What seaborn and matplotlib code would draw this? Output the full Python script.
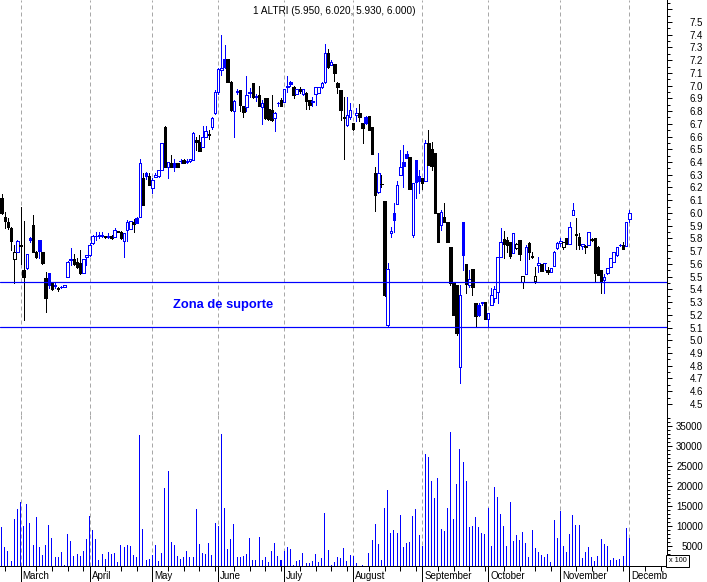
import matplotlib
matplotlib.use("Agg")
import numpy as np
import matplotlib.pyplot as plt
import matplotlib.transforms as mtransforms
from matplotlib.patches import Rectangle
from matplotlib.ticker import FixedLocator, FuncFormatter
import seaborn as sns

# ---------------- data ----------------
opens = [6.12, 5.97, 5.93, 5.88, 5.635, 5.695, 5.74, 5.55, 5.565, 5.80,
         5.905, 5.695, 5.787, 5.69, 5.486, 5.525, 5.452, 5.43, 5.413, 5.415,
         5.415, 5.499, 5.63, 5.635, 5.617, 5.604, 5.525, 5.656, 5.669, 5.761,
         5.815, 5.82, 5.818, 5.819, 5.81, 5.819, 5.808, 5.86, 5.853, 5.782,
         5.866, 5.874, 5.931, 5.96, 5.965, 6.271, 6.311, 6.29, 6.193, 6.285,
         6.29, 6.338, 6.678, 6.364, 6.39, 6.39, 6.39, 6.405, 6.416, 6.40,
         6.405, 6.416, 6.57, 6.56, 6.515, 6.60, 6.62, 6.673, 6.783, 6.953,
         7.12, 7.207, 7.207, 7.031, 6.80, 6.95, 6.966, 6.84, 6.835, 6.95,
         7.024, 6.914, 6.927, 6.836, 6.90, 6.82, 6.81, 6.743, 6.86, 6.888,
         6.874, 6.99, 7.031, 6.992, 6.935, 6.971, 6.935, 6.945, 6.887, 6.875,
         6.935, 6.94, 6.987, 7.03, 7.254, 7.162, 7.17, 7.018, 6.966, 6.75,
         6.69, 6.757, 6.705, 6.77, 6.788, 6.71, 6.75, 6.762, 6.678, 6.311,
         6.162, 6.23, 6.094, 5.12, 5.845, 6.002, 6.07, 6.298, 6.40, 6.463,
         6.442, 5.827, 6.416, 6.29, 6.272, 6.254, 6.547, 6.50, 6.468, 6.002,
         5.906, 5.97, 5.932, 5.735, 5.447, 5.434, 4.793, 5.932, 5.60, 5.433,
         5.557, 5.295, 5.277, 5.295, 5.303, 5.165, 5.277, 5.33, 5.38, 5.657,
         5.793, 5.79, 5.775, 5.686, 5.722, 5.785, 5.46, 5.52, 5.763, 5.66,
         5.465, 5.595, 5.60, 5.605, 5.552, 5.54, 5.583, 5.722, 5.766, 5.73,
         5.80, 5.76, 5.984, 5.835, 5.81, 5.74, 5.735, 5.75, 5.79, 5.80,
         5.735, 5.552, 5.47, 5.526, 5.578, 5.618, 5.67, 5.745, 5.75, 5.742,
         5.95]
highs = [6.15, 6.01, 5.96, 5.89, 5.75, 5.79, 6.05, 5.94, 5.68, 5.81,
         5.983, 5.70, 5.79, 5.69, 5.538, 5.53, 5.452, 5.45, 5.42, 5.43,
         5.434, 5.62, 5.722, 5.68, 5.65, 5.709, 5.64, 5.672, 5.761, 5.826,
         5.853, 5.853, 5.853, 5.82, 5.84, 5.826, 5.879, 5.86, 5.86, 5.84,
         5.944, 5.94, 5.949, 5.965, 6.421, 6.311, 6.32, 6.311, 6.271, 6.31,
         6.34, 6.55, 6.68, 6.40, 6.456, 6.42, 6.395, 6.42, 6.42, 6.42,
         6.425, 6.636, 6.60, 6.613, 6.683, 6.683, 6.65, 6.75, 6.966, 7.136,
         7.40, 7.32, 7.21, 7.035, 6.885, 6.97, 6.966, 6.84, 7.076, 6.98,
         7.024, 6.935, 6.997, 6.888, 6.90, 6.90, 6.93, 6.79, 6.875, 6.90,
         6.975, 7.076, 7.04, 6.997, 6.971, 6.992, 6.975, 6.953, 6.887, 6.914,
         6.992, 6.99, 7.031, 7.327, 7.285, 7.20, 7.17, 7.031, 6.966, 6.914,
         6.914, 6.86, 6.705, 6.827, 6.856, 6.71, 6.76, 6.762, 6.678, 6.364,
         6.468, 6.298, 6.094, 5.61, 5.89, 6.076, 6.254, 6.495, 6.534, 6.49,
         6.442, 6.238, 6.416, 6.337, 6.272, 6.573, 6.652, 6.56, 6.468, 6.002,
         6.023, 6.076, 5.932, 5.735, 5.447, 5.434, 5.434, 5.932, 5.60, 5.552,
         5.557, 5.295, 5.29, 5.30, 5.303, 5.211, 5.408, 5.43, 5.657, 5.88,
         5.855, 5.814, 5.775, 5.84, 5.761, 5.79, 5.505, 5.75, 5.77, 5.696,
         5.578, 5.657, 5.60, 5.61, 5.578, 5.565, 5.70, 5.77, 5.80, 5.775,
         5.80, 5.93, 6.075, 5.957, 5.84, 5.76, 5.75, 5.85, 5.80, 5.80,
         5.74, 5.552, 5.52, 5.565, 5.65, 5.696, 5.73, 5.76, 5.77, 5.93,
         6.02]
lows = [5.99, 5.88, 5.87, 5.71, 5.45, 5.69, 5.60, 5.16, 5.56, 5.77,
        5.69, 5.65, 5.643, 5.60, 5.224, 5.408, 5.394, 5.41, 5.39, 5.41,
        5.415, 5.499, 5.591, 5.591, 5.57, 5.52, 5.525, 5.591, 5.66, 5.76,
        5.79, 5.80, 5.81, 5.80, 5.80, 5.792, 5.808, 5.85, 5.792, 5.656,
        5.78, 5.87, 5.853, 5.92, 5.965, 6.06, 6.27, 6.219, 6.159, 6.28,
        6.28, 6.338, 6.364, 6.277, 6.36, 6.33, 6.36, 6.39, 6.39, 6.395,
        6.40, 6.416, 6.495, 6.49, 6.515, 6.60, 6.58, 6.66, 6.78, 6.934,
        7.08, 7.14, 7.03, 6.80, 6.60, 6.935, 6.803, 6.756, 6.80, 6.91,
        6.90, 6.88, 6.84, 6.70, 6.74, 6.73, 6.72, 6.64, 6.84, 6.84,
        6.87, 6.953, 7.00, 6.90, 6.935, 6.945, 6.93, 6.82, 6.82, 6.84,
        6.848, 6.94, 6.98, 7.02, 7.136, 7.16, 7.04, 6.94, 6.73, 6.42,
        6.68, 6.74, 6.65, 6.72, 6.725, 6.548, 6.70, 6.65, 6.463, 6.018,
        6.16, 6.207, 5.35, 5.107, 5.81, 5.853, 6.07, 6.298, 6.20, 6.43,
        6.186, 5.814, 6.115, 6.155, 6.19, 6.254, 6.377, 6.337, 6.002, 5.775,
        5.866, 5.93, 5.775, 5.434, 5.199, 5.042, 4.662, 5.552, 5.37, 5.42,
        5.355, 5.112, 5.19, 5.28, 5.165, 5.11, 5.277, 5.30, 5.29, 5.657,
        5.65, 5.696, 5.644, 5.686, 5.72, 5.63, 5.41, 5.52, 5.64, 5.644,
        5.447, 5.54, 5.547, 5.55, 5.52, 5.535, 5.583, 5.72, 5.74, 5.72,
        5.76, 5.76, 5.98, 5.72, 5.72, 5.72, 5.685, 5.75, 5.78, 5.46,
        5.513, 5.37, 5.37, 5.52, 5.578, 5.618, 5.66, 5.74, 5.72, 5.742,
        5.93]
closes = [6.00, 5.94, 5.89, 5.78, 5.69, 5.78, 5.75, 5.50, 5.677, 5.785,
          5.695, 5.656, 5.70, 5.604, 5.329, 5.434, 5.40, 5.434, 5.40, 5.42,
          5.434, 5.617, 5.64, 5.599, 5.578, 5.525, 5.635, 5.672, 5.748, 5.819,
          5.822, 5.826, 5.83, 5.808, 5.82, 5.80, 5.866, 5.853, 5.80, 5.84,
          5.931, 5.939, 5.913, 5.92, 6.395, 6.062, 6.29, 6.219, 6.258, 6.30,
          6.338, 6.547, 6.364, 6.398, 6.364, 6.364, 6.36, 6.41, 6.39, 6.41,
          6.42, 6.626, 6.555, 6.49, 6.60, 6.647, 6.615, 6.743, 6.953, 7.128,
          7.136, 7.144, 7.031, 6.809, 6.88, 6.955, 6.848, 6.796, 6.926, 6.94,
          6.914, 6.92, 6.84, 6.862, 6.743, 6.735, 6.73, 6.783, 6.865, 6.84,
          6.971, 6.995, 7.013, 6.927, 6.971, 6.958, 6.971, 6.882, 6.848, 6.88,
          6.987, 6.99, 7.024, 7.259, 7.149, 7.188, 7.097, 6.987, 6.809, 6.743,
          6.77, 6.81, 6.657, 6.783, 6.751, 6.665, 6.71, 6.652, 6.463, 6.141,
          6.311, 6.228, 5.356, 5.56, 5.86, 5.945, 6.22, 6.364, 6.37, 6.43,
          6.186, 6.238, 6.245, 6.25, 6.238, 6.553, 6.377, 6.37, 6.002, 5.775,
          6.01, 5.932, 5.775, 5.447, 5.199, 5.055, 5.355, 5.67, 5.442, 5.478,
          5.421, 5.19, 5.199, 5.30, 5.165, 5.211, 5.355, 5.40, 5.657, 5.772,
          5.756, 5.748, 5.66, 5.84, 5.76, 5.675, 5.505, 5.735, 5.696, 5.655,
          5.502, 5.605, 5.547, 5.61, 5.54, 5.565, 5.696, 5.766, 5.78, 5.775,
          5.76, 5.892, 6.023, 5.83, 5.75, 5.755, 5.74, 5.85, 5.795, 5.526,
          5.513, 5.468, 5.50, 5.565, 5.644, 5.696, 5.73, 5.75, 5.72, 5.93,
          6.00]
volumes = [9750, 4750, 3750, 1250, 11750, 14250, 16000, 10000, 15500, 10750,
           5250, 12250, 4750, 2750, 5250, 10250, 7000, 2250, 2250, 3500,
           250, 8000, 6250, 2500, 3000, 2500, 3750, 6750, 12580, 9000,
           6750, 1500, 3000, 1750, 3500, 3000, 3250, 1000, 5250, 4750,
           5250, 5000, 2750, 2250, 32750, 9250, 1500, 1750, 2750, 5250,
           1250, 3250, 19500, 23750, 6000, 5250, 2500, 1750, 2250, 3750,
           2250, 2250, 14250, 5500, 3250, 3000, 5750, 2750, 10750, 10000,
           33000, 14500, 4250, 6750, 10500, 2250, 2250, 2500, 3000, 7000,
           1500, 1500, 7250, 1500, 2250, 1000, 3750, 5750, 2500, 1500,
           3750, 4750, 4250, 250, 1250, 1500, 3250, 750, 750, 1250,
           3000, 1000, 2000, 13250, 4000, 250, 1000, 2250, 2000, 4500,
           1250, 2750, 2500, 750, 100, 150, 100, 3250, 6500, 10500,
           5500, 1500, 14500, 19000, 8250, 9000, 8250, 12750, 4750, 5750,
           6000, 12500, 14250, 7750, 5000, 28000, 27250, 21250, 17000, 22000,
           9250, 8750, 14500, 33500, 11750, 20500, 29250, 26000, 21250, 9750,
           10000, 12250, 9750, 8250, 8000, 14500, 5000, 19750, 17250, 13000,
           10000, 5000, 16000, 6250, 7750, 6500, 8500, 5750, 2250, 9000,
           4500, 3500, 2750, 2250, 3000, 1000, 11500, 7000, 13750, 5000,
           3500, 8000, 12750, 10250, 10250, 2000, 3500, 4750, 2250, 1250,
           2500, 6750, 5500, 5000, 1500, 2000, 1500, 1750, 2500, 9500,
           7000]

month_names = ["March", "April", "May", "June", "July", "August",
               "September", "October", "November", "December"]
month_starts = [6, 28, 48, 69, 90, 112, 134, 155, 178, 200]
support_levels = [5.46, 5.106]
price_ticks = [round(4.5 + 0.1 * k, 1) for k in range(32)]
volume_ticks = [5000, 10000, 15000, 20000, 25000, 30000, 35000]
title_text = "1 ALTRI (5.950, 6.020, 5.930, 6.000)"
annotation_text = "Zona de suporte"
volume_unit_text = "x 100"

# ---------------- style ----------------
sns.set_theme(style="white")
plt.rcParams['font.family'] = ['Liberation Sans', 'DejaVu Sans']
plt.rcParams['axes.linewidth'] = 0.72

BLUE = "#0000ff"
BLACK = "#000000"
GRID = "#a8a8a8"
PX = 0.72  # one pixel in points at dpi 100

W, H = 707, 582
fig = plt.figure(figsize=(W / 100, H / 100), dpi=100)
fig.patch.set_facecolor("white")

axis_x = 667 / W
price_ax = fig.add_axes([0, 1 - 415 / H, axis_x, 415 / H])
vol_ax = fig.add_axes([0, 1 - 566 / H, axis_x, 151 / H], sharex=price_ax)
for ax in (price_ax, vol_ax):
    ax.set_facecolor("white")

idx = np.arange(len(closes))

# ---------------- candles ----------------
body_w = 0.80
prev_close = [opens[0]] + closes[:-1]
colors = [BLUE if c >= p else BLACK for c, p in zip(closes, prev_close)]
price_ax.vlines(idx, lows, highs, colors=colors, linewidth=PX,
                antialiased=False, zorder=3)
for i, (o, c, col) in enumerate(zip(opens, closes, colors)):
    bottom = min(o, c)
    height = abs(c - o)
    face = "white" if c > o else col
    price_ax.add_patch(Rectangle((i - body_w / 2, bottom), body_w, height,
                                 facecolor=face, edgecolor=col, linewidth=PX,
                                 antialiased=False, zorder=4))

for lvl in support_levels:
    price_ax.axhline(lvl, color=BLUE, linewidth=PX * 1.2, zorder=5)

price_ax.text(70.5, (support_levels[0] + support_levels[1]) / 2 - 0.005,
              annotation_text, color=BLUE, fontsize=9.3, fontweight="bold",
              ha="center", va="center", zorder=6)

# ---------------- volume ----------------
sns.barplot(x=idx, y=volumes, native_scale=True, color=BLUE, saturation=1,
            width=0.32, linewidth=0, errorbar=None, ax=vol_ax,
            antialiased=False, zorder=3)
vol_ax.set_xlabel("")
vol_ax.set_ylabel("")

# ---------------- month lines ----------------
for ax in (price_ax, vol_ax):
    for m in month_starts:
        ax.axvline(m, color=GRID, linewidth=PX, linestyle=(0, (4, 3)), zorder=1)

# ---------------- axes limits ----------------
price_ax.set_xlim(-0.542, 212.0)
price_ax.set_ylim(4.4128, 7.6728)
vol_ax.set_ylim(0, 37750)

# spines
for ax in (price_ax, vol_ax):
    for s in ("left", "top"):
        ax.spines[s].set_visible(False)
    ax.spines["right"].set_color(BLACK)
    ax.spines["right"].set_linewidth(PX)
price_ax.spines["bottom"].set_visible(False)
vol_ax.spines["bottom"].set_color(BLACK)
vol_ax.spines["bottom"].set_linewidth(PX)

# price y ticks
price_ax.yaxis.tick_right()
price_ax.yaxis.set_major_locator(FixedLocator(price_ticks))
price_ax.yaxis.set_minor_locator(FixedLocator([t + 0.05 for t in price_ticks]))
price_ax.yaxis.set_major_formatter(FuncFormatter(lambda v, p: f"{v:.1f}" if v < 7.55 else ""))
price_ax.tick_params(axis="y", which="major", right=True, left=False, length=3.6,
                     width=PX, color=BLACK, direction="out", labelsize=7,
                     pad=22.3, labelcolor=BLACK)
price_ax.tick_params(axis="y", which="minor", right=True, left=False, length=2.2,
                     width=PX, color=BLACK, direction="out")
price_ax.tick_params(axis="x", which="both", bottom=False, labelbottom=False)
for lab in price_ax.get_yticklabels():
    lab.set_horizontalalignment("right")

# volume y ticks
vol_ax.yaxis.tick_right()
vol_ax.yaxis.set_major_locator(FixedLocator(volume_ticks))
vol_ax.yaxis.set_minor_locator(FixedLocator([v for v in range(1000, 38000, 1000)]))
vol_ax.yaxis.set_major_formatter(FuncFormatter(lambda v, p: f"{int(v)}"))
vol_ax.tick_params(axis="y", which="major", right=True, left=False, length=3.6,
                   width=PX, color=BLACK, direction="out", labelsize=7,
                   pad=22.3, labelcolor=BLACK)
vol_ax.tick_params(axis="y", which="minor", right=True, left=False, length=2.2,
                   width=PX, color=BLACK, direction="out")
for lab in vol_ax.get_yticklabels():
    lab.set_horizontalalignment("right")

# x ticks: month starts (long) and weekly (short)
weekly = [month_starts[0] - 5]
bounds = month_starts + [213]
for a, b in zip(bounds[:-1], bounds[1:]):
    weekly += list(range(a + 5, b, 5))
vol_ax.xaxis.set_major_locator(FixedLocator(month_starts))
vol_ax.xaxis.set_minor_locator(FixedLocator(weekly))
vol_ax.tick_params(axis="x", which="major", bottom=True, length=11.5, width=PX,
                   color=BLACK, direction="out", labelbottom=False)
vol_ax.tick_params(axis="x", which="minor", bottom=True, length=3.6, width=PX,
                   color=BLACK, direction="out")

# month labels, left-aligned just right of the month line, clipped at the axis
clip_box = mtransforms.TransformedBbox(
    mtransforms.Bbox([[0, 0], [axis_x, 1]]), fig.transFigure)
label_trans = vol_ax.get_xaxis_transform() + mtransforms.ScaledTranslation(
    2 / 100, -5 / 100, fig.dpi_scale_trans)
for m, name in zip(month_starts, month_names):
    t = vol_ax.text(m, 0, name, transform=label_trans, ha="left", va="top",
                    fontsize=7, color=BLACK)
    t.set_clip_on(True)
    t.set_clip_box(clip_box)

# title
fig.text(334 / W, 1 - 11 / H, title_text, ha="center", va="center",
         fontsize=7.2, color=BLACK)

# "x 100" box
fig.text(677.5 / W, 1 - 561 / H, volume_unit_text, ha="center", va="center",
         fontsize=5.2, color=BLACK,
         bbox=dict(boxstyle="square,pad=0.3", fc="white", ec=BLACK, lw=PX))

fig.savefig("out.png", dpi=100, facecolor="white")
